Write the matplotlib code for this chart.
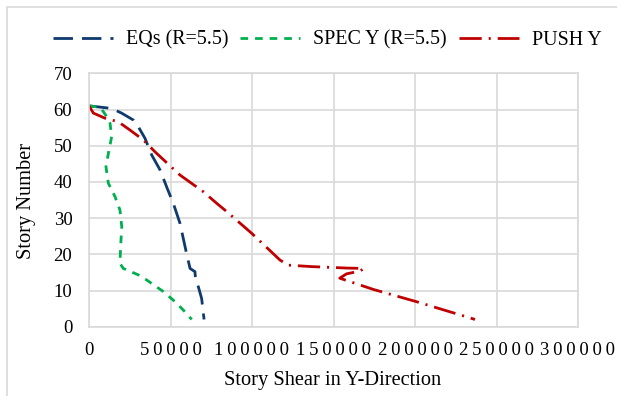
import numpy as np
import matplotlib.pyplot as plt
from matplotlib.ticker import MultipleLocator, FuncFormatter
from matplotlib.patches import Rectangle

plt.rcParams['font.family'] = ['Liberation Serif', 'DejaVu Serif']
plt.rcParams['lines.scale_dashes'] = False

# story shear, EQs (R=5.5)
eq_shear = [0, 13900, 20000, 27200, 30300, 34400, 38500, 43600, 48000, 51700,
            55800, 60300, 62000, 65000, 65400, 67100, 69100, 70600]
eq_story = [61, 60.3, 59, 57.1, 55.2, 52, 47.4, 43.3, 38.2, 34.1,
            28.6, 19.3, 16.1, 15.2, 12.9, 11, 7.8, 2]

# story shear, SPEC Y (R=5.5)
spec_shear = [0, 7000, 10900, 12900, 13900, 11900, 10400, 11900, 16000, 19000,
              20100, 19400, 19000, 21000, 30300, 35400, 45600, 52800, 58900, 63000]
spec_story = [61, 60.6, 58, 56.2, 52.5, 47.9, 44.2, 39.6, 35.9, 32.2,
              27.6, 22.1, 17.5, 16.1, 14.3, 12.9, 9.7, 6.9, 4.1, 2]

# story shear, PUSH Y
push_shear = [0, 2700, 9800, 18000, 25200, 33300, 40500, 55800, 70100, 78300,
              84500, 99800, 105900, 117200, 122300, 136600, 158100, 168500, 166500, 158000,
              153800, 174400, 201000, 229600, 236800]
push_story = [61, 59, 57.6, 56.6, 54.3, 51.6, 48.3, 41.9, 37.3, 34.1,
              31.8, 25.8, 23.2, 18.4, 17, 16.6, 16.2, 16.1, 15.4, 14.6,
              13.4, 10.3, 6.9, 3, 2]

fig = plt.figure(figsize=(6.17, 3.96), dpi=100)
ax = fig.add_axes([89/617, 1-326.7/396, (578-89)/617, (326.7-73.3)/396])

ax.plot(eq_shear, eq_story, color='#0E3A6E', lw=2.0, dashes=(14, 6.5),
        label='EQs (R=5.5)')
ax.plot(spec_shear, spec_story, color='#00B050', lw=2.0, dashes=(5.5, 5),
        label='SPEC Y (R=5.5)')
ax.plot(push_shear, push_story, color='#C00000', lw=2.0, dashes=(16, 5, 1.5, 5),
        label='PUSH Y')

ax.set_xlim(0, 300000)
ax.set_ylim(0, 70)
ax.xaxis.set_major_locator(MultipleLocator(50000))
ax.yaxis.set_major_locator(MultipleLocator(10))
ax.xaxis.set_major_formatter(FuncFormatter(lambda v, p: '\u2009'.join(str(int(v)))))
ax.grid(True, color='#D9D9D9', lw=1.2)
ax.set_axisbelow(True)
for s in ax.spines.values():
    s.set_color('#D9D9D9')
    s.set_linewidth(1.2)
ax.tick_params(length=0, labelsize=13.5, colors='black')
ax.tick_params(axis='y', pad=12)
ax.tick_params(axis='x', pad=11)

fig.text(333/617, 1-380/396, 'Story Shear in Y-Direction', ha='center', va='center', fontsize=14.7)
fig.text(27/617, 1-201/396, 'Story Number', ha='center', va='center', rotation=90, fontsize=14.7)

fig.legend(loc='center', bbox_to_anchor=(327/617, 1-40/396), ncol=3, frameon=False,
           fontsize=14.4, handlelength=3.0, handletextpad=0.65, columnspacing=0.6,
           borderaxespad=0)

fig.patches.append(Rectangle((7/617, -0.1), 1.2, 1.1 - 7/396, transform=fig.transFigure,
                             fill=False, edgecolor='#D9D9D9', lw=1.2))

fig.savefig('out.png', dpi=100)
